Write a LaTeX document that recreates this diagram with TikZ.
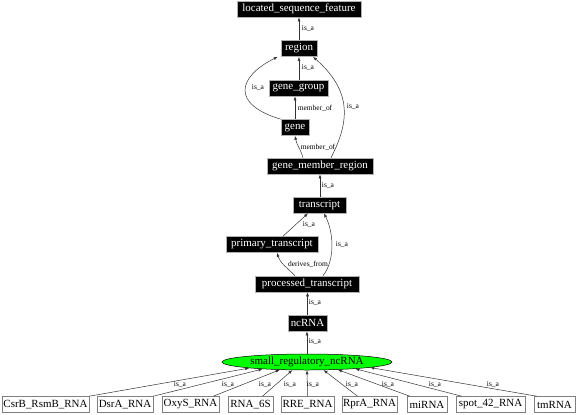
\documentclass[tikz,border=0pt]{standalone}
\usepackage{fontspec}
\setmainfont{Liberation Serif}
\usetikzlibrary{arrows.meta,shapes.geometric}
\begin{document}
\begin{tikzpicture}[x=1bp,y=1bp,
  term/.style={draw=gray!60, fill=black, text=white, font=\fontsize{11}{12}\selectfont, inner sep=0pt, minimum height=16bp, line width=0.6pt},
  leaf/.style={draw=gray, fill=white, text=black, font=\fontsize{11}{12}\selectfont, inner sep=0pt, minimum height=16bp, line width=0.6pt},
  focus/.style={ellipse, draw=black, fill=green, text=black, font=\fontsize{11}{12}\selectfont, inner sep=0pt, minimum width=170bp, minimum height=16bp, line width=0.5pt},
  rel/.style={draw=gray!40!black, line width=0.5pt, -{Latex[length=4bp,width=3bp]}},
  lbl/.style={font=\fontsize{7.5}{8}\selectfont, inner sep=0pt, text=black}]
\useasboundingbox (0,0) rectangle (576,414);
% upper chain
\node[term, minimum width=124bp] (lsf) at (299,405) {located\_sequence\_feature};
\node[term, minimum width=36bp] (region) at (299,365.5) {region};
\node[term, minimum width=59bp] (ggroup) at (298.5,326) {gene\_group};
\node[term, minimum width=28bp] (gene) at (295,286.5) {gene};
\node[term, minimum width=106bp] (gmr) at (320,248) {gene\_member\_region};
\node[term, minimum width=53bp] (transcript) at (319.5,209) {transcript};
\node[term, minimum width=92bp] (primary) at (272,169.5) {primary\_transcript};
\node[term, minimum width=104bp] (processed) at (307,130) {processed\_transcript};
\node[term, minimum width=39bp] (ncrna) at (307.5,91) {ncRNA};
\node[focus] (srn) at (307,52) {small\_regulatory\_ncRNA};
% leaves
\node[leaf, minimum width=87bp] (csrb) at (45.5,9.5) {CsrB\_RsmB\_RNA};
\node[leaf, minimum width=56bp] (dsra) at (125,9.5) {DsrA\_RNA};
\node[leaf, minimum width=57bp] (oxys) at (190.5,9.5) {OxyS\_RNA};
\node[leaf, minimum width=45bp] (rna6s) at (250.5,9.5) {RNA\_6S};
\node[leaf, minimum width=53bp] (rre) at (307.5,9.5) {RRE\_RNA};
\node[leaf, minimum width=55bp] (rpra) at (369.5,9.5) {RprA\_RNA};
\node[leaf, minimum width=40bp] (mirna) at (427,9.5) {miRNA};
\node[leaf, minimum width=69bp] (spot) at (490.5,9.5) {spot\_42\_RNA};
\node[leaf, minimum width=41bp] (tmrna) at (554.5,9.5) {tmRNA};
% upper edges
\draw[rel] (region) -- (lsf);
\node[lbl] (l1) at (308,385) {is\_a};
\draw[rel] (ggroup.north -| region) -- (region);
\node[lbl] (l2) at (308,346) {is\_a};
\draw[rel] (gene) -- (gene.north |- ggroup.south);
\node[lbl] (l3) at (315,306) {member\_of};
\draw[rel] (gene.north west) .. controls +(-50,15) and +(-40,-20) .. ([xshift=-3bp]region.south west);
\node[lbl] (l4) at (258,326) {is\_a};
\draw[rel] ([xshift=11bp]gmr.north) .. controls +(18,35) and +(40,-35) .. ([xshift=14bp]region.south);
\node[lbl] (l5) at (353,307) {is\_a};
\draw[rel] ([xshift=-17bp]gmr.north) .. controls +(-3,10) and +(2,-10) .. (gene.south);
\node[lbl] (l6) at (318,267) {member\_of};
\draw[rel] (transcript.north -| gmr) -- (gmr);
\node[lbl] (l7) at (328,228) {is\_a};
\draw[rel] ([xshift=11bp]primary.north) -- ([xshift=-11.5bp]transcript.south);
\node[lbl] (l8) at (309,189) {is\_a};
\draw[rel] ([xshift=-12bp]processed.north) .. controls +(-8,8) and +(3,-10) .. ([xshift=5bp]primary.south);
\node[lbl] (l9) at (308,150) {derives\_from};
\draw[rel] ([xshift=16bp]processed.north) .. controls +(12,15) and +(10,-20) .. ([xshift=4.5bp]transcript.south);
\node[lbl] (l10) at (342,169) {is\_a};
\draw[rel] (ncrna) -- (ncrna.north |- processed.south);
\node[lbl] (l11) at (315,111) {is\_a};
\draw[rel] (srn) -- (srn.north |- ncrna.south);
\node[lbl] (l12) at (315,72) {is\_a};
% lower edges
\draw[rel] (csrb.north east) -- (srn.186);
\node[lbl] (b1) at (180,29.5) {is\_a};
\draw[rel] (dsra.north east) -- (srn.189);
\node[lbl] (b2) at (228,29.5) {is\_a};
\draw[rel] ([xshift=-6bp]oxys.north east) -- (srn.196);
\node[lbl] (b3) at (265,29.5) {is\_a};
\draw[rel] ([xshift=12bp]rna6s.north) -- (srn.209);
\node[lbl] (b4) at (290,29.5) {is\_a};
\draw[rel] (rre.north) -- (srn.south);
\node[lbl] (b5) at (313,29.5) {is\_a};
\draw[rel] ([xshift=-12bp]rpra.north) -- (srn.334);
\node[lbl] (b6) at (352,29.5) {is\_a};
\draw[rel] ([xshift=3bp]mirna.north west) -- (srn.346);
\node[lbl] (b7) at (388,29.5) {is\_a};
\draw[rel] ([xshift=6bp]spot.north west) -- (srn.352.6);
\node[lbl] (b8) at (435,29.5) {is\_a};
\draw[rel] ([xshift=3bp]tmrna.north west) -- (srn.355.6);
\node[lbl] (b9) at (493,29.5) {is\_a};
\end{tikzpicture}
\end{document}
